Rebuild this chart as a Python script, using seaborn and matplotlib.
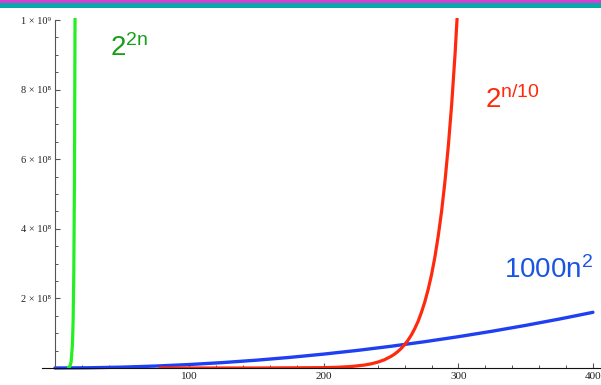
import numpy as np
import pandas as pd
import matplotlib
matplotlib.use("Agg")
import matplotlib.pyplot as plt
from matplotlib.patches import Rectangle
from matplotlib.ticker import FixedLocator, MultipleLocator
import seaborn as sns

# values
quad_n = [0, 25, 50, 75, 100, 125, 150, 175, 200, 225, 250, 275, 300, 325, 350, 375, 400]
quad_y = [0, 6.25e5, 2.5e6, 5.625e6, 1.0e7, 1.5625e7, 2.25e7, 3.0625e7, 4.0e7,
          5.0625e7, 6.25e7, 7.5625e7, 9.0e7, 1.05625e8, 1.225e8, 1.40625e8, 1.6e8]

slow_exp_n = [78, 150, 200, 210, 220, 230, 235, 240, 245, 250, 252.5, 255, 257.5, 260,
              262.5, 265, 267.5, 270, 272.5, 275, 277.5, 280, 282.5, 285, 287.5,
              290, 292.5, 295, 297.5, 300]
slow_exp_y = [2.2e2, 3.3e4, 1.05e6, 2.1e6, 4.19e6, 8.39e6, 1.19e7, 1.68e7, 2.37e7,
              3.36e7, 3.99e7, 4.75e7, 5.64e7, 6.71e7, 7.98e7, 9.49e7, 1.13e8,
              1.34e8, 1.60e8, 1.90e8, 2.26e8, 2.68e8, 3.19e8, 3.80e8, 4.51e8,
              5.37e8, 6.39e8, 7.59e8, 9.03e8, 1.074e9]

fast_exp_n = [10, 11, 12, 13, 13.5, 14, 14.5, 15]
fast_exp_y = [1.05e6, 4.19e6, 1.68e7, 6.71e7, 1.34e8, 2.68e8, 5.37e8, 1.074e9]

y_ticks = [2e8, 4e8, 6e8, 8e8, 1e9]
y_tick_labels = ["2 × 10⁸", "4 × 10⁸", "6 × 10⁸", "8 × 10⁸", "1 × 10⁹"]
x_ticks = [100, 200, 300, 400]

sns.set_style("ticks")
plt.rcParams["mathtext.fontset"] = "custom"
plt.rcParams["mathtext.rm"] = "Liberation Sans"
plt.rcParams["mathtext.it"] = "Liberation Sans"

fig = plt.figure(figsize=(6.01, 3.85), dpi=100)
ax = fig.add_axes([41.5 / 601, 17 / 385, (601 - 41.5) / 601, (367 - 17) / 385])

sns.lineplot(x=quad_n, y=quad_y, ax=ax, color="#1f3ff2", lw=2.4, clip_on=False)
sns.lineplot(x=slow_exp_n, y=slow_exp_y, ax=ax, color="#ff2a0e", lw=2.3)
sns.lineplot(x=fast_exp_n, y=fast_exp_y, ax=ax, color="#22f022", lw=2.3)

ax.set_xlim(-10, 406)
ax.set_ylim(0, 1.0e9 * 350 / 348)

ax.spines["left"].set_position(("data", 0))
ax.spines["bottom"].set_position(("data", 0))
ax.spines["right"].set_visible(False)
ax.spines["top"].set_visible(False)
ax.spines["left"].set_color("#555555")
ax.spines["bottom"].set_color("#111111")
ax.spines["left"].set_bounds(0, 1e9)

serif = ["Liberation Serif", "DejaVu Serif"]
ax.yaxis.set_major_locator(FixedLocator(y_ticks))
ax.set_yticklabels(y_tick_labels, family=serif, fontsize=7.5)
ax.yaxis.set_minor_locator(MultipleLocator(5e7))
ax.xaxis.set_major_locator(FixedLocator(x_ticks))
ax.set_xticklabels([str(v) for v in x_ticks], family=serif, fontsize=8)
ax.xaxis.set_minor_locator(MultipleLocator(20))

ax.tick_params(which="major", direction="in", length=3.6, width=0.8,
               color="#555555", labelcolor="#222222", pad=3)
ax.tick_params(which="minor", direction="in", length=2.2, width=0.7, color="#555555")
ax.set_xlabel("")
ax.set_ylabel("")

label_font = {"family": "Liberation Sans", "fontsize": 20}
fig.text(110 / 601, 1 - 56 / 385, r"$\mathregular{2^{2n}}$", color="#1a9e1a", **label_font)
fig.text(485 / 601, 1 - 108 / 385, r"$\mathregular{2^{n/10}}$", color="#ff2a0a", **label_font)
fig.text(504 / 601, 1 - 278 / 385, r"$\mathregular{1000n^{2}}$", color="#1a55e0", **label_font)

# top border stripes
fig.patches.append(Rectangle((0, 1 - 8 / 385), 1, 8 / 385, transform=fig.transFigure,
                             facecolor="#0aa9a9", edgecolor="none", zorder=5))
fig.patches.append(Rectangle((0, 1 - 2.5 / 385), 1, 2.5 / 385, transform=fig.transFigure,
                             facecolor="#d63fd0", edgecolor="none", zorder=6))

fig.savefig("out.png", dpi=100)
